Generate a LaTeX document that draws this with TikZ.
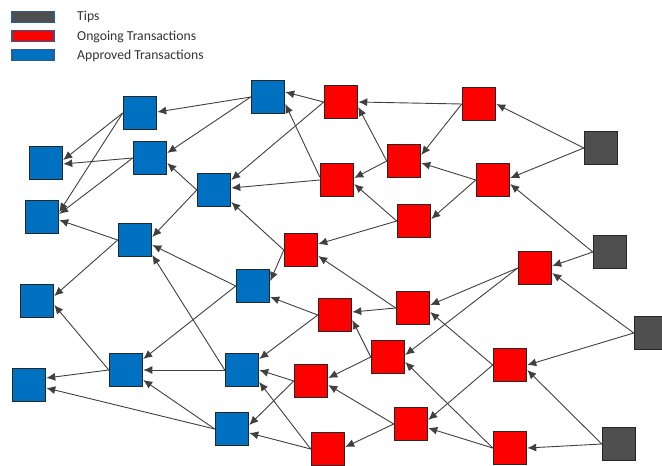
\documentclass[tikz,border=0pt]{standalone}
\usepackage{fontspec}
\setmainfont{Carlito}
\usepackage{tikz}
\usetikzlibrary{arrows.meta}
\definecolor{apprblue}{HTML}{0070C0}
\definecolor{ongored}{HTML}{FF0000}
\definecolor{tipgray}{HTML}{4F4F4F}
\definecolor{legline}{HTML}{2E5C8A}
\definecolor{edgegray}{HTML}{404040}
\tikzset{
  sq/.style={
    draw=black!85, rectangle, minimum height=33pt, minimum width=33pt, inner sep=0pt, line width=1.5pt
  },
  bsq/.style={sq, fill=apprblue},
  rsq/.style={sq, fill=ongored},
  gsq/.style={sq, fill=tipgray},
  leg/.style={
    draw=legline, rectangle, minimum height=11pt, minimum width=42pt, inner sep=0pt, line width=1.5pt
  },
  legtxt/.style={anchor=west, inner sep=0pt, text=black!80, font=\fontsize{13.7}{16}\selectfont},
  arr/.style={-{Latex[length=9pt,width=8pt]}, draw=edgegray, line width=0.9pt}
}

\begin{document}
\begin{tikzpicture}[x=1pt, y=-1pt]
   \useasboundingbox (0,0) rectangle (662,466);

   % legend
   \node[leg, fill=tipgray] (ltip) at (33,17) {};
   \node[leg, fill=ongored] (lon) at (33,36) {};
   \node[leg, fill=apprblue] (lap) at (33,55) {};
   \node[legtxt] (ttip) at (77,17) {Tips};
   \node[legtxt] (ton) at (77,37) {Ongoing Transactions};
   \node[legtxt] (tap) at (77,56) {Approved Transactions};

   % approved
   \node[bsq] (b1) at (140,113) {};
   \node[bsq] (b2) at (150,158) {};
   \node[bsq] (b3) at (46,163) {};
   \node[bsq] (b4) at (42,217) {};
   \node[bsq] (b5) at (135,240) {};
   \node[bsq] (b6) at (214,190) {};
   \node[bsq] (b7) at (268,97) {};
   \node[bsq] (b8) at (37,301) {};
   \node[bsq] (b9) at (29,385) {};
   \node[bsq] (b10) at (126,370) {};
   \node[bsq] (b11) at (253,286) {};
   \node[bsq] (b12) at (242,370) {};
   \node[bsq] (b13) at (232,429) {};

   % ongoing
   \node[rsq] (r1) at (341,102) {};
   \node[rsq] (r2) at (337,180) {};
   \node[rsq] (r3) at (301,250) {};
   \node[rsq] (r4) at (479,104) {};
   \node[rsq] (r5) at (404,161) {};
   \node[rsq] (r6) at (493,180) {};
   \node[rsq] (r7) at (414,221) {};
   \node[rsq] (r8) at (535,268) {};
   \node[rsq] (r9) at (413,308) {};
   \node[rsq] (r10) at (335,315) {};
   \node[rsq] (r11) at (388,357) {};
   \node[rsq] (r12) at (510,365) {};
   \node[rsq] (r13) at (311,381) {};
   \node[rsq] (r14) at (411,424) {};
   \node[rsq] (r15) at (328,449) {};
   \node[rsq] (r16) at (510,448) {};

   % tips
   \node[gsq] (g1) at (601,148) {};
   \node[gsq] (g2) at (610,252) {};
   \node[gsq] (g3) at (651,333) {};
   \node[gsq] (g4) at (619,444) {};

   % tips -> ongoing
   \draw[arr] (g1.west) -- (r4.east);
   \draw[arr] (g1.west) -- ([yshift=2pt]r6.east);
   \draw[arr] (g2.west) -- ([yshift=-4pt]r6.east);
   \draw[arr] (g2.west) -- ([yshift=2pt]r8.east);
   \draw[arr] (g3.west) -- ([yshift=-5pt]r8.east);
   \draw[arr] (g3.west) -- (r12.east);
   \draw[arr] (g4.west) -- ([yshift=-5pt]r12.east);
   \draw[arr] (g4.west) -- (r16.east);

   % ongoing -> ongoing
   \draw[arr] (r4.west) -- (r1.east);
   \draw[arr] (r4.west) -- ([yshift=6pt]r5.east);
   \draw[arr] (r6.west) -- ([yshift=-2pt]r5.east);
   \draw[arr] (r6.west) -- ([yshift=2pt]r7.east);
   \draw[arr] (r5.west) -- ([yshift=-5pt]r1.east);
   \draw[arr] (r5.west) -- ([yshift=2pt]r2.east);
   \draw[arr] (r7.west) -- ([yshift=-4pt]r2.east);
   \draw[arr] (r7.west) -- ([yshift=6pt]r3.east);
   \draw[arr] (r8.west) -- ([yshift=3pt]r9.east);
   \draw[arr] (r8.west) -- ([yshift=2pt]r11.east);
   \draw[arr] (r12.west) -- ([yshift=-4pt]r9.east);
   \draw[arr] (r12.west) -- ([yshift=4pt]r14.east);
   \draw[arr] (r16.west) -- ([yshift=-5pt]r11.east);
   \draw[arr] (r16.west) -- ([yshift=-4pt]r14.east);
   \draw[arr] (r9.west) -- ([yshift=-6pt]r3.east);
   \draw[arr] (r9.west) -- ([yshift=3pt]r10.east);
   \draw[arr] (r11.west) -- ([yshift=-5pt]r10.east);
   \draw[arr] (r11.west) -- ([yshift=3pt]r13.east);
   \draw[arr] (r14.west) -- ([yshift=-4pt]r13.east);
   \draw[arr] (r14.west) -- ([yshift=2pt]r15.east);

   % ongoing -> approved
   \draw[arr] (r1.west) -- ([yshift=5pt]b7.east);
   \draw[arr] ([yshift=3pt]r2.west) -- ([yshift=-7pt]b7.east);
   \draw[arr] (r1.west) -- ([yshift=10pt]b6.east);
   \draw[arr] (r2.west) -- ([yshift=2pt]b6.east);
   \draw[arr] (r3.west) -- ([yshift=-12pt]b6.east);
   \draw[arr] (r3.west) -- ([yshift=5pt]b11.east);
   \draw[arr] (r10.west) -- ([yshift=-11pt]b11.east);
   \draw[arr] (r10.west) -- ([yshift=11pt]b12.east);
   \draw[arr] (r13.west) -- (b12.east);
   \draw[arr] (r15.west) -- ([yshift=-12pt]b12.east);
   \draw[arr] (r13.west) -- ([yshift=4pt]b13.east);
   \draw[arr] (r15.west) -- ([yshift=-4pt]b13.east);

   % approved -> approved
   \draw[arr] (b7.west) -- ([yshift=1pt]b1.east);
   \draw[arr] (b7.west) -- ([yshift=5pt]b2.east);
   \draw[arr] (b6.west) -- ([yshift=-5pt]b2.east);
   \draw[arr] (b6.west) -- ([yshift=3pt]b5.east);
   \draw[arr] (b11.west) -- ([yshift=-5pt]b5.east);
   \draw[arr] (b12.west) -- ([yshift=-15pt]b5.east);
   \draw[arr] (b11.west) -- ([yshift=11pt]b10.east);
   \draw[arr] (b12.west) -- (b10.east);
   \draw[arr] (b13.west) -- ([yshift=-10pt]b10.east);
   \draw[arr] (b13.west) -- ([yshift=-3pt]b9.east);
   \draw[arr] (b10.west) -- ([yshift=7pt]b9.east);
   \draw[arr] (b10.west) -- ([yshift=-4pt]b8.east);
   \draw[arr] (b5.west) -- ([yshift=5pt]b8.east);
   \draw[arr] (b5.west) -- ([yshift=-3pt]b4.east);
   \draw[arr] (b1.west) -- ([yshift=3pt]b3.east);
   \draw[arr] (b1.west) -- ([yshift=5pt]b4.east);
   \draw[arr] (b2.west) -- ([yshift=-1pt]b3.east);
   \draw[arr] (b2.west) -- ([yshift=3pt]b4.east);
\end{tikzpicture}
\end{document}
